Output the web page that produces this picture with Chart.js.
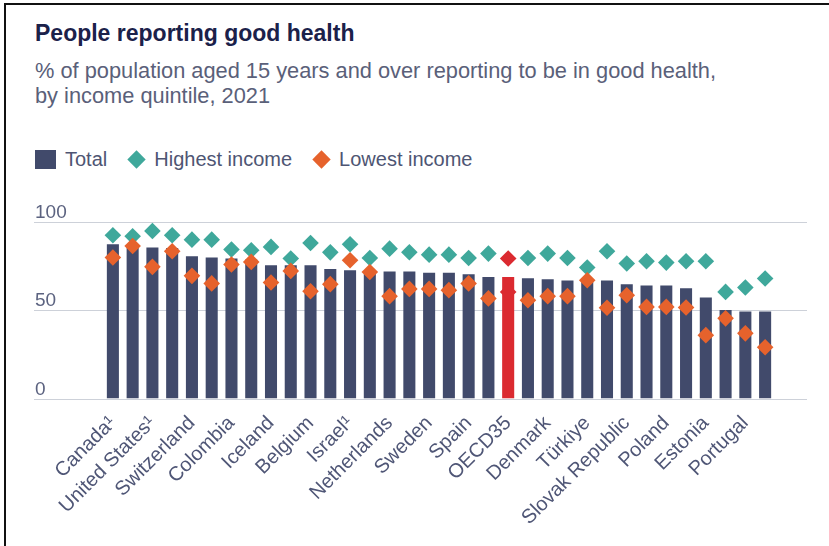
<!DOCTYPE html>
<html>
<head>
<meta charset="utf-8">
<script src="https://cdn.jsdelivr.net/npm/chart.js@4.4.1/dist/chart.umd.min.js"></script>
<style>
  body { margin: 0; background: #fff; font-family: "Liberation Sans", Arial, sans-serif; }
  #page { position: relative; width: 829px; height: 546px; overflow: hidden; background: #fff; }
  .frame { position: absolute; left: 4px; top: 3px; width: 900px; height: 600px;
           border-top: 2px solid #111; border-left: 2px solid #111; }
  .title { position: absolute; left: 35px; top: 22px; font-size: 23px; line-height: 23px;
           font-weight: bold; color: #1b214a; white-space: nowrap; }
  .subtitle { position: absolute; left: 35px; top: 58px; font-size: 21.8px; line-height: 25px;
              color: #5a6079; white-space: nowrap; }
  .legend { position: absolute; left: 35px; top: 147px; height: 24px; display: flex;
            align-items: center; font-size: 20px; color: #4e5573; white-space: nowrap; }
  .legend span { display: inline-block; }
  .sq { width: 21px; height: 19px; background: #414a6b; margin-right: 9px; }
  .dm { width: 13px; height: 13px; transform: rotate(45deg); margin: 0 11px 0 0; }
  .gap { width: 23px; }
  #chartBox { position: absolute; left: 0; top: 0; width: 829px; height: 546px; }
</style>
</head>
<body>
<div id="page">
  <div class="frame"></div>
  <div class="title">People reporting good health</div>
  <div class="subtitle">% of population aged 15 years and over reporting to be in good health,<br>by income quintile, 2021</div>
  <div class="legend">
    <span class="sq"></span><span>Total</span>
    <span class="gap"></span>
    <span class="dm" style="background:#3fa89b"></span><span>Highest income</span>
    <span class="gap"></span>
    <span class="dm" style="background:#e6622c"></span><span>Lowest income</span>
  </div>
  <div id="chartBox"><canvas id="healthChart"></canvas></div>
</div>
<script>
// countries sorted by total share; only every other name is printed on the axis
const countries = [
  "Canada¹", "Ireland", "United States¹", "Greece", "Switzerland", "Italy",
  "Colombia", "Norway", "Iceland", "Luxembourg", "Belgium", "Austria",
  "Israel¹", "Chile", "Netherlands", "Finland", "Sweden", "France",
  "Spain", "United Kingdom", "OECD35", "Slovenia", "Denmark", "Germany",
  "Türkiye", "Czechia", "Slovak Republic", "Hungary", "Poland", "Mexico",
  "Estonia", "Latvia", "Portugal", "Lithuania"
];

const totalShare = [
  87.4, 86.8, 85.6, 85.3, 80.6, 79.9, 79.3, 78.8, 75.5, 75.5, 75.5, 73.4,
  72.7, 72.1, 71.9, 71.9, 71.2, 71.2, 70.4, 68.9, 68.9, 68.2, 67.6, 66.8,
  66.8, 66.8, 64.8, 64.0, 64.0, 62.5, 57.2, 50.2, 49.3, 49.3
];

const highestIncome = [
  92.5, 91.9, 94.9, 92.5, 90.0, 90.0, 84.4, 84.0, 85.9, 79.3, 88.1, 82.8,
  87.4, 79.6, 84.9, 82.9, 81.5, 81.5, 79.6, 82.1, 79.3, 79.6, 82.1, 79.6,
  74.2, 83.4, 76.5, 77.8, 77.0, 77.8, 77.8, 60.4, 62.9, 68.0
];

const lowestIncome = [
  79.9, 86.4, 74.6, 83.4, 69.5, 65.2, 75.9, 77.4, 65.7, 72.3, 60.8, 64.8,
  78.3, 71.7, 58.0, 62.1, 62.1, 61.4, 65.2, 56.7, 60.4, 55.7, 58.0, 58.0,
  67.0, 51.4, 58.5, 51.9, 51.9, 51.6, 35.9, 45.4, 36.9, 29.0
];

const yTicks = [0, 50, 100];

const NAVY = "#414a6b";
const TEAL = "#3fa89b";
const ORANGE = "#e6622c";
const RED = "#db2a30";
const isOecd = (i) => countries[i] === "OECD35";

// gridlines run past the bars to the left margin, labels sit on top of them
const gridPlugin = {
  id: "wideGrid",
  beforeDatasetsDraw(chart) {
    const ctx = chart.ctx;
    const y = chart.scales.y;
    ctx.save();
    ctx.font = "19px 'Liberation Sans', Arial, sans-serif";
    ctx.fillStyle = "#5c6380";
    ctx.textAlign = "left";
    ctx.textBaseline = "alphabetic";
    yTicks.forEach((t) => {
      const py = Math.round(y.getPixelForValue(t)) + 0.5;
      ctx.strokeStyle = "#cdd1d9";
      ctx.lineWidth = 1.2;
      ctx.beginPath();
      ctx.moveTo(34, py);
      ctx.lineTo(807, py);
      ctx.stroke();
      ctx.fillText(String(t), 35, py - 5);
    });
    ctx.restore();
  },
};

const ctx = document.getElementById("healthChart").getContext("2d");
new Chart(ctx, {
  data: {
    labels: countries,
    datasets: [
      {
        type: "line",
        label: "Lowest income",
        data: lowestIncome,
        showLine: false,
        pointStyle: "rectRot",
        pointRadius: 8.3,
        pointHoverRadius: 8.3,
        pointBorderWidth: 0,
        pointBackgroundColor: (c) => (isOecd(c.dataIndex) ? RED : ORANGE),
        order: 1,
        clip: false,
      },
      {
        type: "line",
        label: "Highest income",
        data: highestIncome,
        showLine: false,
        pointStyle: "rectRot",
        pointRadius: 8.3,
        pointHoverRadius: 8.3,
        pointBorderWidth: 0,
        pointBackgroundColor: (c) => (isOecd(c.dataIndex) ? RED : TEAL),
        order: 2,
        clip: false,
      },
      {
        type: "bar",
        label: "Total",
        data: totalShare,
        backgroundColor: (c) => (isOecd(c.dataIndex) ? RED : NAVY),
        categoryPercentage: 1,
        barPercentage: 0.61,
        order: 3,
      },
    ],
  },
  options: {
    responsive: true,
    maintainAspectRatio: false,
    animation: false,
    layout: { padding: { left: 103, right: 54, top: 222, bottom: 0 } },
    plugins: {
      legend: { display: false },
      tooltip: { enabled: false },
    },
    scales: {
      y: {
        display: false,
        min: 0,
        max: 100,
      },
      x: {
        grid: { display: false, drawTicks: false },
        border: { display: false },
        afterFit: (scale) => { scale.height = 147.5; },
        ticks: {
          autoSkip: false,
          minRotation: 45,
          maxRotation: 45,
          padding: 13,
          color: "#4f5676",
          font: { family: "'Liberation Sans', Arial, sans-serif", size: 20 },
          callback: (v, i) => (i % 2 === 0 ? countries[i] : ""),
        },
      },
    },
  },
  plugins: [gridPlugin],
});
</script>
</body>
</html>
